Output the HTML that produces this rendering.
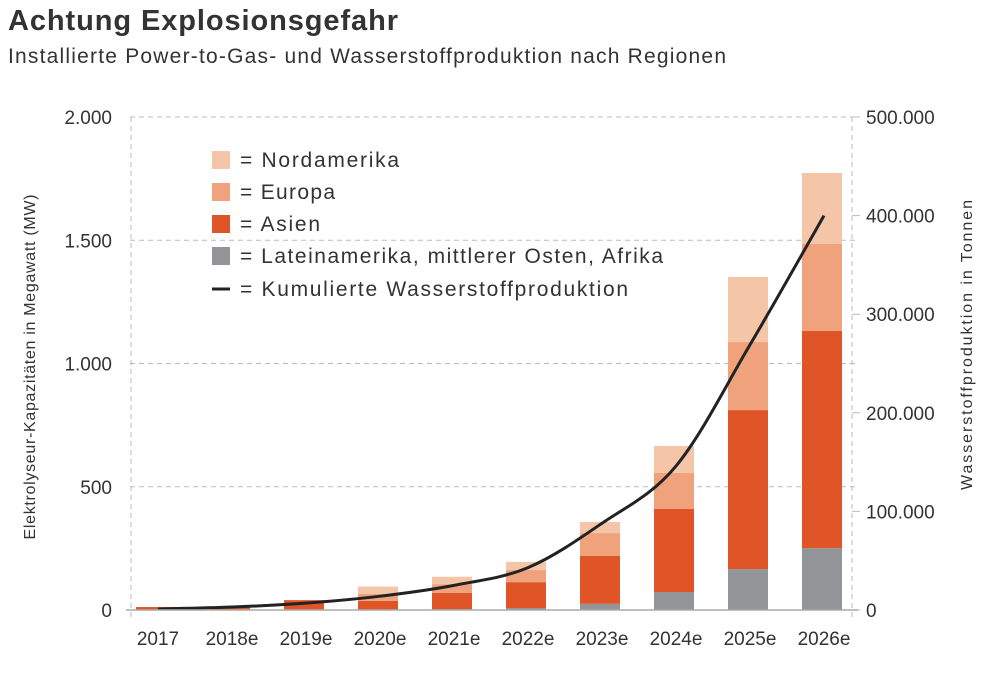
<!DOCTYPE html>
<html><head><meta charset="utf-8"><style>
body{margin:0;background:#fff;font-family:"Liberation Sans",sans-serif;}
</style></head><body>
<svg width="1000" height="668" xmlns="http://www.w3.org/2000/svg" font-family="Liberation Sans, sans-serif" id="chart">
<text x="8" y="30" font-size="29" font-weight="bold" fill="#333" textLength="390">Achtung Explosionsgefahr</text>
<text x="8" y="63" font-size="21" fill="#333" textLength="718">Installierte Power-to-Gas- und Wasserstoffproduktion nach Regionen</text>
<g id="grid"></g><g id="bars"></g><g id="line"></g><g id="axes"></g>
<text transform="translate(35,367) rotate(-90)" text-anchor="middle" font-size="16" fill="#333" textLength="345">Elektrolyseur-Kapazitäten in Megawatt (MW)</text>
<text transform="translate(972,345) rotate(-90)" text-anchor="middle" font-size="16" fill="#333" textLength="290">Wasserstoffproduktion in Tonnen</text>
<g font-size="21" fill="#333">
<rect x="212" y="151" width="18" height="18" fill="#f5c5a7"/>
<text x="240" y="167" textLength="159">= Nordamerika</text>
<rect x="212" y="183" width="18" height="18" fill="#efa27c"/>
<text x="240" y="199" textLength="95">= Europa</text>
<rect x="212" y="215" width="18" height="18" fill="#e05527"/>
<text x="240" y="231" textLength="80">= Asien</text>
<rect x="212" y="247" width="18" height="18" fill="#929497"/>
<text x="240" y="263" textLength="423">= Lateinamerika, mittlerer Osten, Afrika</text>
<line x1="212" y1="289" x2="230" y2="289" stroke="#222" stroke-width="3"/>
<text x="240" y="296" textLength="388">= Kumulierte Wasserstoffproduktion</text>
</g>
</svg>
<script>
const categories=["2017","2018e","2019e","2020e","2021e","2022e","2023e","2024e","2025e","2026e"];
const latam=[0,0,0,0,4,8,25,73,166,251];
const asien=[12,10,40,37,66,105,194,337,645,881];
const europa=[0,0,0,28,35,49,93,146,276,353];
const nordamerika=[0,0,0,30,30,33,45,109,264,288];
const hydrogen=[1000,3000,7000,14000,25000,43000,88000,146000,269000,400000];
const leftTicks=[0,500,1000,1500,2000];
const leftLabels=["0","500","1.000","1.500","2.000"];
const rightTicks=[0,100000,200000,300000,400000,500000];
const rightLabels=["0","100.000","200.000","300.000","400.000","500.000"];
const NS="http://www.w3.org/2000/svg";
const y0=610,yTop=117;
const yL=v=>y0-(v/2000)*(y0-yTop);
const yR=v=>y0-(v/500000)*(y0-yTop);
const xC=i=>156+i*74;
const bw=40;
function mk(tag,attrs,parent,txt){const e=document.createElementNS(NS,tag);for(const k in attrs)e.setAttribute(k,attrs[k]);if(txt!==undefined)e.textContent=txt;document.getElementById(parent).appendChild(e);return e;}
leftTicks.forEach((t,i)=>{
  if(t>0){const g=mk('line',{x1:130,x2:858,y1:yL(t),y2:yL(t),stroke:'#bbb','stroke-dasharray':'5,4'},'grid');
  
  }
  const l=mk('text',{x:112,y:yL(t)+7,'text-anchor':'end','font-size':19,fill:'#333'},'axes',leftLabels[i]);
  
  
});
rightTicks.forEach((t,i)=>{
  const k=mk('line',{x1:852,x2:860,y1:yR(t),y2:yR(t),stroke:'#bbb'},'grid');
  
  
  const l=mk('text',{x:866,y:yR(t)+7,'font-size':19,fill:'#333'},'axes',rightLabels[i]);
  
  
});
[131,852].forEach(x=>{const v=mk('line',{x1:x,x2:x,y1:yTop,y2:620,stroke:'#bbb','stroke-dasharray':'5,4'},'grid');

});
const series=[[latam,'#929497','latam'],[asien,'#e05527','asien'],[europa,'#efa27c','europa'],[nordamerika,'#f5c5a7','nordamerika']];
categories.forEach((c,i)=>{
  let acc=0;
  series.forEach(([arr,col,nm])=>{
    const v=arr[i]; if(v<=0)return;
    const r=mk('rect',{x:xC(i)-bw/2,y:yL(acc+v),width:bw,height:yL(acc)-yL(acc+v),fill:col},'bars');
    
    
    acc+=v;
  });
  const t=mk('text',{x:xC(i)+2,y:645,'text-anchor':'middle','font-size':19,fill:'#333'},'axes',c);
  
  
});
const base=mk('line',{x1:126,x2:858,y1:y0,y2:y0,stroke:'#aaa','stroke-width':1.5},'axes');


const pts=hydrogen.map((v,i)=>[xC(i)+2,yR(v)]);
let d='M'+pts[0][0]+','+pts[0][1];
for(let i=0;i<pts.length-1;i++){
  const p0=pts[Math.max(0,i-1)],p1=pts[i],p2=pts[i+1],p3=pts[Math.min(pts.length-1,i+2)];
  const c1=[p1[0]+(p2[0]-p0[0])/6,p1[1]+(p2[1]-p0[1])/6];
  const c2=[p2[0]-(p3[0]-p1[0])/6,p2[1]-(p3[1]-p1[1])/6];
  d+=` C${c1[0]},${c1[1]} ${c2[0]},${c2[1]} ${p2[0]},${p2[1]}`;
}
const ln=mk('path',{d:d,fill:'none',stroke:'#222','stroke-width':3},'line');


</script>
</body></html>
